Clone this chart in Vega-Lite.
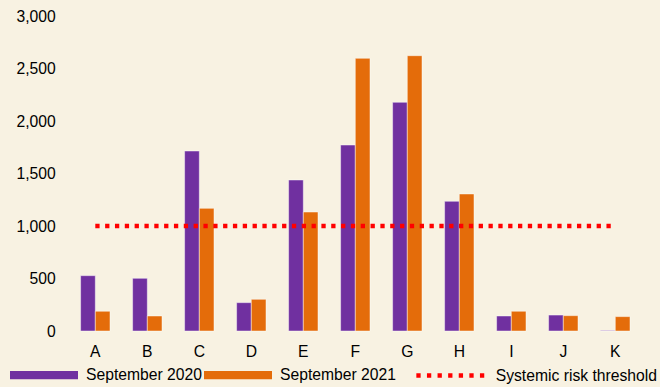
{
  "$schema": "https://vega.github.io/schema/vega-lite/v6.json",
  "width": 572,
  "height": 315,
  "autosize": {"type": "none"},
  "padding": {"left": 69.3, "top": 16, "right": 18.7, "bottom": 56},
  "background": "#f8f2e2",
  "config": {
    "view": {"stroke": null},
    "font": "Liberation Sans",
    "axis": {"labelFont": "Liberation Sans", "labelColor": "#000000", "labelFontSize": 15.7}
  },
  "datasets": {
    "bars": [
      {"category": "A", "series": "September 2020", "value": 527},
      {"category": "A", "series": "September 2021", "value": 188},
      {"category": "B", "series": "September 2020", "value": 502},
      {"category": "B", "series": "September 2021", "value": 143},
      {"category": "C", "series": "September 2020", "value": 1714},
      {"category": "C", "series": "September 2021", "value": 1168},
      {"category": "D", "series": "September 2020", "value": 270},
      {"category": "D", "series": "September 2021", "value": 302},
      {"category": "E", "series": "September 2020", "value": 1438},
      {"category": "E", "series": "September 2021", "value": 1133},
      {"category": "F", "series": "September 2020", "value": 1771},
      {"category": "F", "series": "September 2021", "value": 2597},
      {"category": "G", "series": "September 2020", "value": 2178},
      {"category": "G", "series": "September 2021", "value": 2622},
      {"category": "H", "series": "September 2020", "value": 1235},
      {"category": "H", "series": "September 2021", "value": 1305},
      {"category": "I", "series": "September 2020", "value": 143},
      {"category": "I", "series": "September 2021", "value": 188},
      {"category": "J", "series": "September 2020", "value": 152},
      {"category": "J", "series": "September 2021", "value": 146},
      {"category": "K", "series": "September 2020", "value": 5},
      {"category": "K", "series": "September 2021", "value": 137}
    ],
    "threshold": [
      {"category": "A", "series": "Systemic risk threshold", "value": 1000},
      {"category": "B", "series": "Systemic risk threshold", "value": 1000},
      {"category": "C", "series": "Systemic risk threshold", "value": 1000},
      {"category": "D", "series": "Systemic risk threshold", "value": 1000},
      {"category": "E", "series": "Systemic risk threshold", "value": 1000},
      {"category": "F", "series": "Systemic risk threshold", "value": 1000},
      {"category": "G", "series": "Systemic risk threshold", "value": 1000},
      {"category": "H", "series": "Systemic risk threshold", "value": 1000},
      {"category": "I", "series": "Systemic risk threshold", "value": 1000},
      {"category": "J", "series": "Systemic risk threshold", "value": 1000},
      {"category": "K", "series": "Systemic risk threshold", "value": 1000}
    ]
  },
  "layer": [
    {
      "data": {"name": "bars"},
      "mark": {"type": "bar", "stroke": "#ffffff", "strokeOpacity": 0.45, "strokeWidth": 1},
      "encoding": {
        "x": {
          "field": "category",
          "type": "nominal",
          "scale": {"paddingInner": 0.435, "paddingOuter": 0.2175},
          "axis": {"title": null, "labelAngle": 0, "domain": false, "ticks": false, "tickSize": 0, "labelPadding": 13, "grid": false}
        },
        "xOffset": {"field": "series", "type": "nominal", "scale": {"paddingInner": 0, "paddingOuter": 0}},
        "y": {
          "field": "value",
          "type": "quantitative",
          "scale": {"domain": [0, 3000], "nice": false},
          "axis": {"title": null, "values": [0, 500, 1000, 1500, 2000, 2500, 3000], "format": ",.0f", "domain": false, "ticks": false, "tickSize": 0, "grid": false, "labelPadding": 14}
        },
        "color": {
          "field": "series",
          "type": "nominal",
          "scale": {
            "domain": ["September 2020", "September 2021"],
            "range": ["#7030a0", "#e46c0a"]
          },
          "legend": {
            "title": null,
            "orient": "none",
            "direction": "horizontal",
            "legendX": -59.3,
            "legendY": 325,
            "symbolType": "M-1,-0.12H1V0.12H-1Z",
            "symbolSize": 4624,
            "symbolStrokeWidth": 0,
            "labelFontSize": 15.7,
            "labelFont": "Liberation Sans",
            "labelColor": "#000000",
            "labelOffset": 8,
            "columnPadding": 2,
            "labelLimit": 400
          }
        }
      }
    },
    {
      "data": {"name": "threshold"},
      "mark": {"type": "line", "strokeDash": [4.3, 5.53], "strokeWidth": 4.3},
      "encoding": {
        "x": {"field": "category", "type": "nominal"},
        "y": {"field": "value", "type": "quantitative"},
        "stroke": {
          "field": "series",
          "type": "nominal",
          "scale": {"domain": ["Systemic risk threshold"], "range": ["#ff0000"]},
          "legend": {
            "title": null,
            "orient": "none",
            "direction": "horizontal",
            "legendX": 344.55,
            "legendY": 323,
            "symbolType": "stroke",
            "symbolSize": 4624,
            "symbolStrokeWidth": 4.3,
            "symbolDash": [4.3, 6.3],
            "labelFontSize": 15.7,
            "labelFont": "Liberation Sans",
            "labelColor": "#000000",
            "labelOffset": 8.85,
            "labelLimit": 400
          }
        }
      }
    }
  ]
}
